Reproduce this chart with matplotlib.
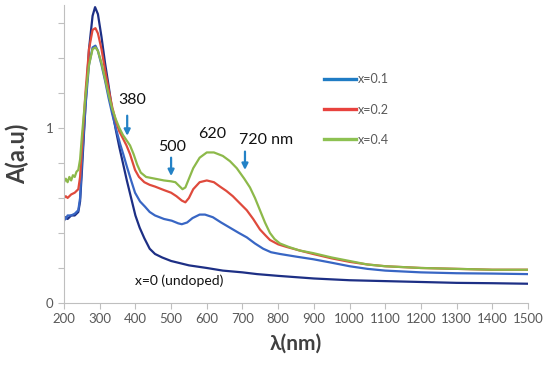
import matplotlib

matplotlib.use("Agg")
import matplotlib.pyplot as plt
from matplotlib.lines import Line2D

plt.rcParams["font.family"] = ["Lato", "DejaVu Sans"]

# x = 0 (undoped)
wl_0 = [200, 205, 210, 220, 230, 240, 245, 250, 260, 270, 280, 287, 295, 305, 315, 325,
        335, 345, 355, 365, 376, 388, 400, 412, 425, 440, 455, 475, 500, 550, 600, 645,
        700, 741, 800, 900, 1000, 1100, 1200, 1300, 1400, 1500]
abs_0 = [0.47, 0.49, 0.48, 0.50, 0.50, 0.52, 0.58, 0.75, 1.12, 1.45, 1.64, 1.69, 1.65, 1.52,
         1.37, 1.24, 1.10, 0.99, 0.89, 0.80, 0.70, 0.60, 0.50, 0.43, 0.37, 0.31, 0.28, 0.26,
         0.24, 0.215, 0.20, 0.185, 0.175, 0.165, 0.155, 0.14, 0.13, 0.125, 0.12, 0.115,
         0.113, 0.11]

# x = 0.1
wl_1 = [200, 205, 210, 220, 230, 240, 245, 250, 260, 270, 280, 288, 295, 305, 315, 325,
        335, 345, 357, 366, 376, 388, 399, 413, 427, 440, 455, 480, 502, 520, 530, 545,
        560, 580, 595, 617, 640, 665, 690, 712, 735, 758, 780, 805, 850, 898, 950, 1000,
        1050, 1100, 1200, 1300, 1400, 1500]
abs_1 = [0.49, 0.48, 0.50, 0.50, 0.51, 0.53, 0.60, 0.80, 1.12, 1.36, 1.46, 1.47, 1.44,
         1.36, 1.27, 1.17, 1.08, 1.00, 0.91, 0.85, 0.78, 0.70, 0.63, 0.58, 0.55, 0.52,
         0.50, 0.48, 0.47, 0.455, 0.45, 0.46, 0.485, 0.505, 0.505, 0.49, 0.46, 0.43, 0.40,
         0.375, 0.34, 0.31, 0.29, 0.28, 0.265, 0.25, 0.23, 0.21, 0.195, 0.185, 0.175, 0.17,
         0.168, 0.165]

# x = 0.2
wl_2 = [200, 205, 210, 220, 230, 240, 245, 250, 260, 270, 280, 288, 295, 305, 315, 325,
        335, 345, 355, 365, 375, 385, 399, 410, 425, 440, 455, 480, 500, 515, 530, 540,
        550, 562, 580, 600, 620, 637, 655, 673, 690, 712, 730, 749, 765, 777, 800, 824,
        860, 898, 950, 1000, 1050, 1100, 1200, 1300, 1400, 1500]
abs_2 = [0.60, 0.61, 0.60, 0.62, 0.63, 0.65, 0.72, 0.88, 1.20, 1.45, 1.56, 1.57, 1.54,
         1.45, 1.33, 1.22, 1.12, 1.04, 0.98, 0.94, 0.90, 0.85, 0.76, 0.72, 0.69, 0.675,
         0.665, 0.645, 0.63, 0.61, 0.585, 0.575, 0.60, 0.65, 0.69, 0.70, 0.69, 0.665, 0.64,
         0.61, 0.575, 0.53, 0.48, 0.42, 0.385, 0.36, 0.335, 0.32, 0.30, 0.28, 0.255, 0.235,
         0.22, 0.21, 0.20, 0.195, 0.19, 0.19]

# x = 0.4
wl_4 = [200, 205, 210, 215, 220, 225, 230, 235, 240, 245, 250, 260, 270, 280, 288, 295,
        305, 315, 325, 335, 345, 355, 365, 375, 385, 395, 405, 415, 430, 455, 480, 500,
        512, 522, 532, 540, 550, 562, 580, 600, 620, 645, 665, 684, 705, 721, 735, 749,
        763, 777, 790, 805, 830, 860, 898, 950, 1000, 1050, 1100, 1200, 1300, 1400, 1500]
abs_4 = [0.69, 0.71, 0.69, 0.72, 0.70, 0.73, 0.72, 0.75, 0.76, 0.82, 0.95, 1.18, 1.36,
         1.45, 1.46, 1.44, 1.37, 1.28, 1.19, 1.11, 1.05, 1.00, 0.96, 0.93, 0.90, 0.85,
         0.79, 0.745, 0.72, 0.71, 0.70, 0.695, 0.69, 0.67, 0.65, 0.66, 0.71, 0.77, 0.83,
         0.86, 0.86, 0.84, 0.81, 0.77, 0.71, 0.66, 0.60, 0.53, 0.46, 0.40, 0.365, 0.34,
         0.32, 0.30, 0.285, 0.26, 0.24, 0.22, 0.21, 0.20, 0.195, 0.19, 0.19]

legend_labels = ["x=0.1", "x=0.2", "x=0.4"]
legend_colors = ["#1f7cc4", "#e8423e", "#8dc152"]

x_ticks = list(range(200, 1501, 100))
y_ticks = [0, 0.2, 0.4, 0.6, 0.8, 1.0, 1.2, 1.4, 1.6]
y_tick_labels = ["0", "", "", "", "", "1", "", "", ""]

# (text, text_x, text_y, align, arrow_x, arrow_top, arrow_bottom)
peaks = [
    ("380", 390, 1.16, "center", 377, 1.07, 0.955),
    ("500", 502, 0.89, "center", 500, 0.83, 0.725),
    ("620", 614, 0.965, "center", None, None, None),
    ("720 nm", 691, 0.93, "left", 707, 0.865, 0.76),
]

fig = plt.figure(figsize=(5.5, 3.72), dpi=100)
ax = fig.add_axes([0.1164, 0.1855, 0.8436, 0.80])

ax.plot(wl_0, abs_0, color="#1d2f85", lw=1.6)
ax.plot(wl_1, abs_1, color="#3866c4", lw=1.6)
ax.plot(wl_2, abs_2, color="#df4a3c", lw=1.6)
ax.plot(wl_4, abs_4, color="#8db94a", lw=1.6)

ax.set_xlim(200, 1500)
ax.set_ylim(0, 1.7)
ax.set_xticks(x_ticks)
ax.set_yticks(y_ticks)
ax.set_yticklabels(y_tick_labels)

for side in ("top", "right"):
    ax.spines[side].set_visible(False)
for side in ("left", "bottom"):
    ax.spines[side].set_color("#bfbfbf")
ax.tick_params(axis="both", colors="#bfbfbf", labelcolor="#595959", labelsize=9.5,
               length=4, direction="out")

ax.set_ylabel("A(a.u)", fontsize=17, fontweight="bold", color="#404040", labelpad=12)
ax.set_xlabel("λ(nm)", fontsize=15, fontweight="bold", color="#404040", labelpad=6)

for text, tx, ty, ha, axx, top, bottom in peaks:
    ax.text(tx, ty, text, fontsize=11.5, color="#111111", ha=ha, va="center")
    if axx is not None:
        ax.annotate("", xy=(axx, bottom), xytext=(axx, top),
                    arrowprops=dict(arrowstyle="-|>", color="#2482c6", lw=1.6,
                                    mutation_scale=9, shrinkA=0, shrinkB=0))

ax.text(522, 0.13, "x=0 (undoped)", fontsize=10, color="#111111", ha="center", va="center")

handles = [Line2D([0], [0], color=c, lw=2.4) for c in legend_colors]
ax.legend(handles, legend_labels, loc="center left", bbox_to_anchor=(0.56, 0.65),
          frameon=False, fontsize=9, handlelength=2.6, handletextpad=0.15,
          labelspacing=1.45, labelcolor="#595959", borderaxespad=0, borderpad=0)

fig.savefig("out.png", dpi=100)
